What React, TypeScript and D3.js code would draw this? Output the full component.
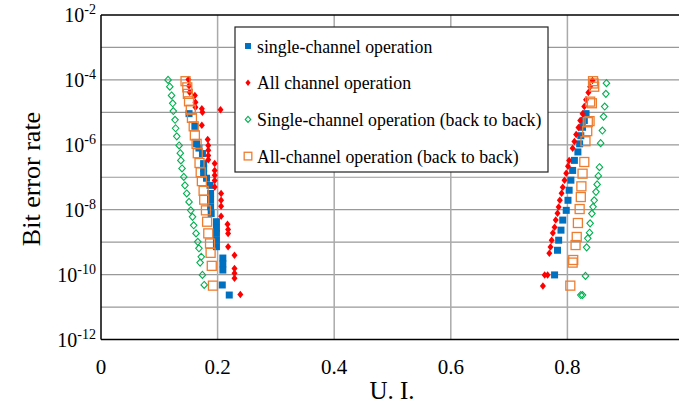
import React from 'react';
import * as d3 from 'd3';

// points are [U.I., log10(BER)]
type Pt = [number, number];

const xTicks = [0, 0.2, 0.4, 0.6, 0.8];
const yLabelExps = [-2, -4, -6, -8, -10, -12];
const yGridExps = [-3, -4, -5, -6, -7, -8, -9, -10, -11];

const singleCh: Pt[] = [
  [0.151, -5.04], [0.161, -5.43], [0.164, -5.97], [0.168, -6.1], [0.174, -6.27], [0.176, -6.58],
  [0.176, -6.73], [0.176, -6.89], [0.181, -7.03], [0.187, -7.25], [0.188, -7.5], [0.188, -7.7],
  [0.188, -7.91], [0.189, -8.12], [0.198, -8.37], [0.198, -8.57], [0.198, -8.73], [0.198, -8.94],
  [0.198, -9.14], [0.209, -9.49], [0.209, -9.67], [0.209, -9.86], [0.208, -10.32], [0.22, -10.63],
  [0.832, -5.04], [0.829, -5.25], [0.826, -5.46], [0.823, -5.72], [0.821, -5.97], [0.818, -6.22],
  [0.812, -6.48], [0.809, -6.79], [0.806, -7.09], [0.803, -7.4], [0.801, -7.71], [0.798, -8.02],
  [0.792, -8.32], [0.789, -8.63], [0.785, -8.94], [0.783, -9.25], [0.778, -10.01],
];

const allCh: Pt[] = [
  [0.15, -3.99], [0.151, -4.18], [0.152, -4.38], [0.161, -4.48], [0.162, -4.69], [0.162, -4.84],
  [0.173, -4.89], [0.174, -5.0], [0.205, -4.92], [0.173, -5.4], [0.183, -5.84], [0.184, -6.02],
  [0.184, -6.17], [0.184, -6.33], [0.184, -6.46], [0.195, -6.58], [0.195, -6.79], [0.195, -6.94],
  [0.195, -7.1], [0.195, -7.3], [0.206, -7.5], [0.206, -7.71], [0.206, -7.89], [0.206, -8.2],
  [0.217, -8.45], [0.218, -8.61], [0.218, -8.73], [0.218, -9.14], [0.229, -9.4], [0.229, -9.81],
  [0.229, -9.96], [0.229, -10.11], [0.239, -10.61],
  [0.843, -4.02], [0.839, -4.21], [0.836, -4.39], [0.832, -4.61], [0.829, -4.82], [0.826, -5.04],
  [0.822, -5.25], [0.819, -5.47], [0.815, -5.68], [0.812, -5.9], [0.809, -6.11], [0.803, -6.48],
  [0.801, -6.66], [0.798, -6.88], [0.795, -7.09], [0.792, -7.31], [0.79, -7.49], [0.787, -7.71],
  [0.785, -7.92], [0.783, -8.11], [0.78, -8.32], [0.778, -8.54], [0.775, -8.72], [0.773, -8.94],
  [0.771, -9.15], [0.769, -9.34], [0.766, -10.01], [0.761, -10.01], [0.758, -10.35],
];

const singleB2B: Pt[] = [
  [0.115, -4.0], [0.118, -4.21], [0.121, -4.48], [0.123, -4.72], [0.124, -4.96], [0.127, -5.23],
  [0.128, -5.49], [0.13, -5.74], [0.134, -6.02], [0.136, -6.26], [0.137, -6.48], [0.139, -6.73],
  [0.142, -6.99], [0.144, -7.25], [0.147, -7.5], [0.151, -7.76], [0.154, -8.02], [0.157, -8.22],
  [0.159, -8.48], [0.163, -8.73], [0.166, -8.99], [0.168, -9.19], [0.172, -9.45], [0.17, -9.63],
  [0.174, -10.01], [0.177, -10.32],
  [0.867, -4.1], [0.866, -4.43], [0.864, -4.82], [0.862, -5.13], [0.86, -5.56], [0.857, -5.95],
  [0.855, -6.69], [0.853, -6.96], [0.851, -7.22], [0.849, -7.45], [0.846, -7.71], [0.844, -7.91],
  [0.842, -8.12], [0.839, -8.42], [0.838, -8.71], [0.835, -8.88], [0.833, -9.16], [0.831, -10.04],
  [0.826, -10.63], [0.823, -10.63],
];

const allB2B: Pt[] = [
  [0.145, -4.04], [0.148, -4.23], [0.149, -4.43], [0.151, -4.66], [0.154, -4.92], [0.156, -5.17],
  [0.159, -5.43], [0.161, -5.71], [0.164, -5.97], [0.166, -6.26], [0.169, -6.56], [0.171, -6.85],
  [0.173, -7.12], [0.176, -7.42], [0.177, -7.69], [0.18, -8.02], [0.182, -8.37], [0.184, -8.73],
  [0.187, -9.04], [0.188, -9.33], [0.19, -9.73], [0.192, -10.34],
  [0.844, -4.04], [0.845, -4.11], [0.846, -4.21], [0.839, -4.67], [0.842, -4.72], [0.835, -5.3],
  [0.838, -5.27], [0.834, -5.58], [0.831, -5.89], [0.829, -6.53], [0.826, -6.89], [0.824, -7.28],
  [0.823, -7.61], [0.821, -7.98], [0.818, -8.41], [0.816, -8.84], [0.814, -9.09], [0.81, -9.55],
  [0.809, -9.63], [0.805, -10.34],
];

const legendLabels = [
  'single-channel operation',
  'All channel operation',
  'Single-channel operation (back to back)',
  'All-channel operation (back to back)',
];

const W = 679;
const H = 404;
const font = "'Liberation Serif', 'Times New Roman', serif";

const x = d3.scaleLinear().domain([0, 1]).range([101, 684]);
const y = d3.scaleLog().domain([1e-12, 1e-2]).range([339.5, 15]);

const BLUE = '#0070C0';
const RED = '#FF0000';
const GREEN = '#00B050';
const ORANGE = '#ED7D31';

function diamond(cx: number, cy: number, w: number, h: number) {
  return `M${cx},${cy - h / 2}L${cx + w / 2},${cy}L${cx},${cy + h / 2}L${cx - w / 2},${cy}Z`;
}

function Marker({ kind, cx, cy, small }: { kind: number; cx: number; cy: number; small?: boolean }) {
  const k = small ? 0.85 : 1;
  if (kind === 0) {
    const s = 7 * k;
    return <rect x={cx - s / 2} y={cy - s / 2} width={s} height={s} fill={BLUE} />;
  }
  if (kind === 1) return <path d={diamond(cx, cy, 6 * k, 7.5 * k)} fill={RED} />;
  if (kind === 2)
    return <path d={diamond(cx, cy, 6.5 * k, 7 * k)} fill="none" stroke={GREEN} strokeWidth={1.1} />;
  const s = 9 * k;
  return <rect x={cx - s / 2} y={cy - s / 2} width={s} height={s} fill="none" stroke={ORANGE} strokeWidth={1.3} />;
}

export default function App() {
  const series = [singleCh, allCh, singleB2B, allB2B];
  const x0 = x(0);
  const yTop = y(1e-2);
  const yBot = y(1e-12);
  return (
    <svg width={W} height={H} style={{ position: 'absolute', left: 0, top: 0, background: '#fff' }}>
      {/* grid */}
      {yGridExps.map((e) => (
        <line key={'h' + e} x1={x0} x2={W} y1={y(Math.pow(10, e))} y2={y(Math.pow(10, e))} stroke="#999" strokeWidth={1.2} />
      ))}
      {xTicks.slice(1).map((t) => (
        <line key={'v' + t} x1={x(t)} x2={x(t)} y1={yTop} y2={yBot} stroke="#aaa" strokeWidth={1.5} />
      ))}
      {/* frame */}
      <line x1={x0} x2={W} y1={yTop} y2={yTop} stroke="#000" strokeWidth={1.5} />
      <line x1={x0} x2={W} y1={yBot} y2={yBot} stroke="#000" strokeWidth={1.5} />
      <line x1={x0} x2={x0} y1={yTop} y2={yBot} stroke="#000" strokeWidth={1.5} />

      {/* data */}
      {series.map((pts, si) => (
        <g key={si}>
          {pts.map((p, i) => (
            <Marker key={i} kind={si} cx={x(p[0])} cy={y(Math.pow(10, p[1]))} />
          ))}
        </g>
      ))}

      {/* y labels */}
      {yLabelExps.map((e) => (
        <text key={e} x={96} y={y(Math.pow(10, e)) + 7} textAnchor="end" fontSize={20} fill="#000" fontFamily={font}>
          10<tspan dy={-8} fontSize={14}>{String(e)}</tspan>
        </text>
      ))}
      {/* x labels */}
      {xTicks.map((t) => (
        <text key={t} x={x(t)} y={374} textAnchor="middle" fontSize={21} fill="#000" fontFamily={font}>
          {t === 0 ? '0' : t.toFixed(1)}
        </text>
      ))}
      <text x={392} y={399} textAnchor="middle" fontSize={25} fill="#000" fontFamily={font}>U. I.</text>
      <text transform="translate(40,179) rotate(-90)" textAnchor="middle" fontSize={26} fill="#000" fontFamily={font}>Bit error rate</text>

      {/* legend */}
      <rect x={235} y={27} width={313} height={145} fill="#fff" stroke="#222" strokeWidth={1.2} />
      {legendLabels.map((lab, i) => {
        const cy = 46 + i * 36.7;
        return (
          <g key={lab}>
            <Marker kind={i} cx={248} cy={cy} small />
            <text x={257} y={cy + 6.5} fontSize={17.8} fill="#000" fontFamily={font}>{lab}</text>
          </g>
        );
      })}
    </svg>
  );
}
